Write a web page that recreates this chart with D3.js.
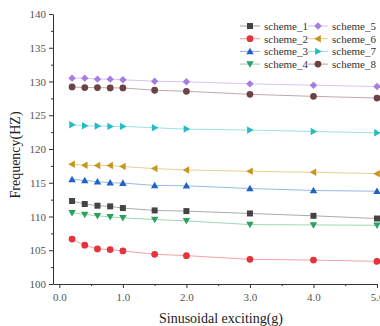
<!DOCTYPE html>
<html lang="en">
<head>
  <meta charset="UTF-8">
  <title>Frequency vs Sinusoidal exciting</title>
  <style>
    body { margin: 0; background: #fff; }
    svg { display: block; }
    .axis path, .axis line { stroke: #333; }
  </style>
</head>
<body>
  <div id="chart"></div>

  <script src="https://d3js.org/d3.v7.min.js"></script>
  <script>
    const excite = [0.2, 0.4, 0.6, 0.8, 1, 1.5, 2, 3, 4, 5];
    const names = ["scheme_1", "scheme_2", "scheme_3", "scheme_4", "scheme_5", "scheme_6", "scheme_7", "scheme_8"];
    const scheme1 = [112.3, 111.85, 111.6, 111.5, 111.25, 110.9, 110.8, 110.45, 110.1, 109.7];
    const scheme2 = [106.65, 105.75, 105.2, 105.1, 104.9, 104.4, 104.2, 103.65, 103.55, 103.35];
    const scheme3 = [115.5, 115.35, 115.15, 115.0, 114.95, 114.6, 114.55, 114.15, 113.85, 113.75];
    const scheme4 = [110.55, 110.3, 110.1, 109.95, 109.8, 109.55, 109.35, 108.8, 108.75, 108.7];
    const scheme5 = [130.5, 130.5, 130.35, 130.35, 130.25, 130.05, 129.95, 129.65, 129.45, 129.25];
    const scheme6 = [117.75, 117.6, 117.55, 117.55, 117.4, 117.1, 116.9, 116.7, 116.55, 116.35];
    const scheme7 = [123.6, 123.45, 123.4, 123.35, 123.35, 123.15, 122.95, 122.8, 122.6, 122.4];
    const scheme8 = [129.2, 129.1, 129.1, 129.05, 129.05, 128.7, 128.55, 128.1, 127.8, 127.55];
    const xTicks = [0, 1, 2, 3, 4, 5];
    const yTicks = [100, 105, 110, 115, 120, 125, 130, 135, 140];

    const allValues = [scheme1, scheme2, scheme3, scheme4, scheme5, scheme6, scheme7, scheme8];
    const colors = ["#444444", "#e3343c", "#2062c8", "#2aa15e", "#a67de0", "#c9961c", "#22bcc4", "#6d4242"];
    const shapes = ["square", "circle", "up", "down", "diamond", "left", "right", "circle"];
    const serif = "'Liberation Serif', 'DejaVu Serif', serif";

    const width = 380, height = 326;
    const svg = d3.select("#chart").append("svg")
      .attr("width", width).attr("height", height)
      .attr("font-family", serif);

    const x = d3.scaleLinear().domain([-0.1, 5]).range([53, 377]);
    const y = d3.scaleLinear().domain([100, 140]).range([284, 14]);

    // marker path generator
    function marker(kind, s) {
      if (kind === "square") return d3.symbol(d3.symbolSquare, s * s).call();
      if (kind === "circle") return d3.symbol(d3.symbolCircle, Math.PI * (s / 2 + 0.4) ** 2).call();
      if (kind === "diamond") {
        const r = s * 0.62;
        return `M0,${-r}L${r},0L0,${r}L${-r},0Z`;
      }
      const a = s * 0.62;
      const pts = {
        up: [[0, -a], [a, a * 0.75], [-a, a * 0.75]],
        down: [[0, a], [a, -a * 0.75], [-a, -a * 0.75]],
        left: [[-a, 0], [a * 0.75, -a], [a * 0.75, a]],
        right: [[a, 0], [-a * 0.75, -a], [-a * 0.75, a]]
      }[kind];
      return "M" + pts.map(p => p.join(",")).join("L") + "Z";
    }

    function styleAxis(g) {
      g.attr("font-family", serif).attr("font-size", 11);
      g.selectAll("text").attr("fill", "#555");
    }

    // axes
    svg.append("g").attr("class", "axis")
      .attr("transform", `translate(${x(-0.1)},0)`)
      .call(d3.axisLeft(y).tickValues(yTicks).tickSize(4).tickSizeOuter(0).tickPadding(3))
      .call(styleAxis);
    svg.append("g").attr("class", "axis")
      .attr("transform", `translate(${x(-0.1)},0)`)
      .call(d3.axisLeft(y).tickValues(d3.range(102.5, 140, 5)).tickSize(2).tickFormat(""))
      .select(".domain").remove();

    svg.append("g").attr("class", "axis")
      .attr("transform", `translate(0,${y(100)})`)
      .call(d3.axisBottom(x).tickValues(xTicks).tickSize(4).tickSizeOuter(0).tickPadding(5))
      .call(styleAxis);
    svg.append("g").attr("class", "axis")
      .attr("transform", `translate(0,${y(100)})`)
      .call(d3.axisBottom(x).tickValues(d3.range(0.5, 5, 1)).tickSize(2).tickFormat(""))
      .select(".domain").remove();

    // axis titles
    svg.append("text")
      .attr("transform", `translate(20,${(y(100) + y(140)) / 2 + 6}) rotate(-90)`)
      .attr("text-anchor", "middle")
      .attr("font-size", 14).attr("fill", "#222")
      .text("Frequency(HZ)");
    svg.append("text")
      .attr("x", 221).attr("y", 323)
      .attr("text-anchor", "middle")
      .attr("font-size", 14).attr("fill", "#222")
      .text("Sinusoidal exciting(g)");

    // series
    const line = d3.line().x((d, i) => x(excite[i])).y(d => y(d));
    allValues.forEach((vals, k) => {
      const g = svg.append("g");
      g.append("path").datum(vals)
        .attr("d", line)
        .attr("fill", "none")
        .attr("stroke", colors[k])
        .attr("stroke-opacity", 0.45)
        .attr("stroke-width", 1);
      g.selectAll("path.m").data(vals).enter().append("path")
        .attr("class", "m")
        .attr("transform", (d, i) => `translate(${x(excite[i])},${y(d)})`)
        .attr("d", marker(shapes[k], 6))
        .attr("fill", colors[k]);
    });

    // legend
    const legend = svg.append("g").attr("font-size", 11).attr("fill", "#333");
    names.forEach((name, k) => {
      const col = Math.floor(k / 4), row = k % 4;
      const cx = col === 0 ? 250 : 318;
      const cy = 26 + row * 12.7;
      const item = legend.append("g").attr("transform", `translate(${cx},${cy})`);
      item.append("line").attr("x1", -10).attr("x2", 10)
        .attr("stroke", colors[k]).attr("stroke-opacity", 0.5);
      item.append("path").attr("d", marker(shapes[k], 6)).attr("fill", colors[k]);
      item.append("text").attr("x", 14).attr("dy", "0.35em").text(name);
    });
  </script>
</body>
</html>
